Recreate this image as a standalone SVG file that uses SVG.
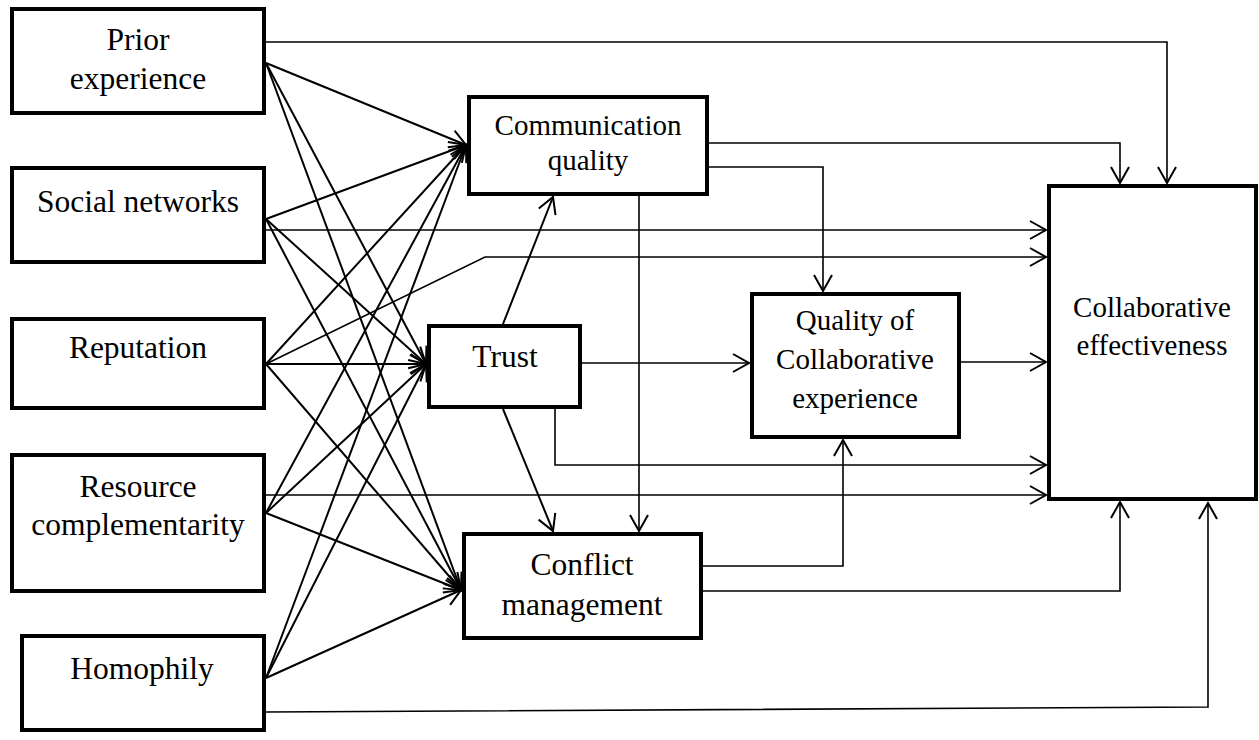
<svg xmlns="http://www.w3.org/2000/svg" width="1259" height="740" viewBox="0 0 1259 740">
<style>
.box{fill:#fff;stroke:#000;stroke-width:4}
.t{font-family:"Liberation Serif","Times New Roman",serif;font-size:31.5px;fill:#000;text-anchor:middle}
.s{font-size:29px}
.c{fill:none;stroke:#000;stroke-width:2;marker-end:url(#arr)}
.o{fill:none;stroke:#000;stroke-width:1.6;marker-end:url(#arr)}
</style>
<defs>
<marker id="arr" markerUnits="userSpaceOnUse" markerWidth="24" markerHeight="24" viewBox="-20 -12 24 24" refX="0" refY="0" orient="auto">
<path d="M-16,-9 L0,0 L-16,9" fill="none" stroke="#000" stroke-width="2"/>
</marker>
</defs>
<rect width="1259" height="740" fill="#fff"/>
<g id="connectors">
<line class="c" x1="266" y1="63" x2="466" y2="145"/>
<line class="c" x1="266" y1="63" x2="426" y2="364"/>
<line class="c" x1="266" y1="63" x2="461" y2="590"/>
<line class="c" x1="266" y1="219" x2="466" y2="145"/>
<line class="c" x1="266" y1="219" x2="426" y2="364"/>
<line class="c" x1="266" y1="219" x2="461" y2="590"/>
<line class="c" x1="266" y1="364" x2="466" y2="145"/>
<line class="c" x1="266" y1="364" x2="426" y2="364"/>
<line class="c" x1="266" y1="364" x2="461" y2="590"/>
<line class="c" x1="266" y1="513" x2="466" y2="145"/>
<line class="c" x1="266" y1="513" x2="426" y2="364"/>
<line class="c" x1="266" y1="513" x2="461" y2="590"/>
<line class="c" x1="266" y1="678" x2="466" y2="145"/>
<line class="c" x1="266" y1="678" x2="426" y2="364"/>
<line class="c" x1="266" y1="678" x2="461" y2="590"/>
<path class="o" d="M266,42 H1167 V183"/>
<path class="o" d="M266,230 H1046"/>
<path class="o" d="M266,364 L485,257 H1046"/>
<path class="o" d="M266,495 H1046"/>
<path class="o" d="M266,712 L1208,707 V503"/>
<path class="o" d="M709,143 H1120 V183"/>
<path class="o" d="M709,167 H823 V291"/>
<path class="o" d="M639,196 V531"/>
<line class="c" x1="503" y1="324" x2="553" y2="197"/>
<path class="o" d="M582,363 H749"/>
<line class="c" x1="503" y1="409" x2="553" y2="531"/>
<path class="o" d="M555,409 V465 H1046"/>
<path class="o" d="M703,566 H843 V440"/>
<path class="o" d="M703,591 H1120 V502"/>
<path class="o" d="M961,362 H1046"/>
</g>
<g id="prior"><rect class="box" x="12" y="9" width="252" height="104"/><text class="t" x="138" y="50">Prior</text><text class="t" x="138" y="89">experience</text></g>
<g id="social"><rect class="box" x="12" y="168" width="252" height="94"/><text class="t" x="138" y="212">Social networks</text></g>
<g id="reputation"><rect class="box" x="12" y="319" width="252" height="89"/><text class="t" x="138" y="358">Reputation</text></g>
<g id="resource"><rect class="box" x="12" y="455" width="252" height="136"/><text class="t" x="138" y="497">Resource</text><text class="t" x="138" y="535">complementarity</text></g>
<g id="homophily"><rect class="box" x="22" y="636" width="242" height="94"/><text class="t" x="142" y="679">Homophily</text></g>
<g id="communication"><rect class="box" x="469" y="97" width="238" height="97"/><text class="t s" x="588" y="135">Communication</text><text class="t s" x="588" y="170">quality</text></g>
<g id="trust"><rect class="box" x="429" y="326" width="151" height="81"/><text class="t" x="505" y="367">Trust</text></g>
<g id="conflict"><rect class="box" x="464" y="534" width="237" height="104"/><text class="t" x="582" y="575">Conflict</text><text class="t" x="582" y="615">management</text></g>
<g id="quality"><rect class="box" x="752" y="294" width="207" height="143"/><text class="t s" x="855" y="330">Quality of</text><text class="t s" x="855" y="369">Collaborative</text><text class="t s" x="855" y="408">experience</text></g>
<g id="effectiveness"><rect class="box" x="1049" y="186" width="207" height="313"/><text class="t s" x="1152" y="317">Collaborative</text><text class="t s" x="1152" y="355">effectiveness</text></g>
</svg>
